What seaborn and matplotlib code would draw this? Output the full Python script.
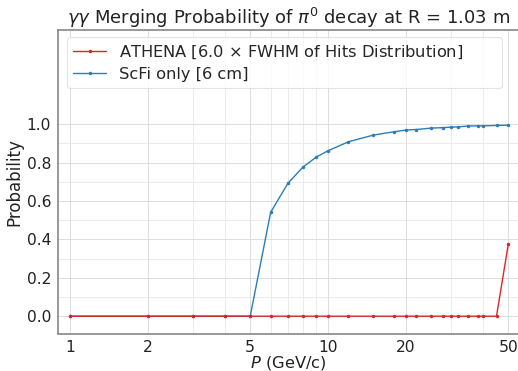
import numpy as np
import pandas as pd
import matplotlib
matplotlib.use("Agg")
import matplotlib.pyplot as plt
import seaborn as sns
from matplotlib.ticker import FixedLocator, NullFormatter

# ---- data ----
momentum = [1, 2, 3, 4, 5, 6, 7, 8, 9, 10, 12, 15, 18, 20, 22, 25, 28, 30, 32, 35, 38, 40, 45, 50]
athena_prob = [0, 0, 0, 0, 0, 0, 0, 0, 0, 0, 0, 0, 0, 0, 0, 0, 0, 0, 0, 0, 0, 0, 0, 0.376]
scfi_prob = [0, 0, 0, 0, 0, 0.541, 0.692, 0.776, 0.828, 0.861, 0.908, 0.943, 0.960, 0.969,
             0.972, 0.979, 0.982, 0.984, 0.986, 0.990, 0.991, 0.991, 0.993, 0.995]
athena_label = r"ATHENA [6.0 $\times$ FWHM of Hits Distribution]"
scfi_label = "ScFi only [6 cm]"
x_ticks = [1, 2, 5, 10, 20, 50]
x_tick_labels = ["1", "2", "5", "10", "20", "50"]
y_ticks = [0.0, 0.2, 0.4, 0.6, 0.8, 1.0]
title = r"$\gamma\gamma$ Merging Probability of $\pi^0$ decay at R = 1.03 m"

df_a = pd.DataFrame({"P": momentum, "prob": athena_prob})
df_s = pd.DataFrame({"P": momentum, "prob": scfi_prob})

sns.set_style("white")
plt.rcParams["font.family"] = ["DejaVu Sans"]

fig = plt.figure(figsize=(5.18, 3.71), dpi=100)
ax = fig.add_axes([58 / 518, 1 - 333.5 / 371, 461 / 518, (333.5 - 30) / 371])

red = "#d62728"
blue = "#2a7db8"
sns.lineplot(data=df_s, x="P", y="prob", ax=ax, color=blue, marker="o", markersize=2.5,
             markeredgewidth=0, linewidth=1.0, label=scfi_label, zorder=3)
sns.lineplot(data=df_a, x="P", y="prob", ax=ax, color=red, marker="o", markersize=2.5,
             markeredgewidth=0, linewidth=1.0, label=athena_label, zorder=4)

ax.set_xscale("log")
ax.set_xlim(0.9, 55)
ax.set_ylim(-0.09, 1.49)
ax.xaxis.set_major_locator(FixedLocator(x_ticks))
ax.set_xticklabels(x_tick_labels)
ax.xaxis.set_minor_locator(FixedLocator([3, 4, 6, 7, 8, 9, 30, 40]))
ax.xaxis.set_minor_formatter(NullFormatter())
ax.yaxis.set_major_locator(FixedLocator(y_ticks))
ax.yaxis.set_minor_locator(FixedLocator([-0.1, 0.1, 0.3, 0.5, 0.7, 0.9]))
ax.yaxis.set_minor_formatter(NullFormatter())

ax.grid(True, which="major", color="#dddddd", linewidth=0.7)
ax.grid(True, which="minor", color="#e8e8e8", linewidth=0.6)
ax.set_axisbelow(True)

for s in ax.spines.values():
    s.set_color("#888888")
    s.set_linewidth(1.2)
ax.tick_params(axis="both", which="major", direction="out", length=3, width=1,
               color="#888888", labelsize=11.2, labelcolor="#222222", pad=2)
ax.tick_params(axis="both", which="minor", direction="out", length=2, width=0.8,
               color="#999999")

ax.set_xlabel(r"$P$ (GeV/c)", fontsize=11.8, labelpad=-1, color="#222222")
ax.set_ylabel("Probability", fontsize=12, labelpad=2, color="#222222")
ax.set_title(title, fontsize=13, pad=4, color="#222222")

h, l = ax.get_legend_handles_labels()
order = [1, 0]
leg = ax.legend([h[i] for i in order], [l[i] for i in order], loc="upper left",
                bbox_to_anchor=(0.0195, 0.0, 0.9435, 0.977), mode="expand",
                fontsize=11.7, frameon=True, borderaxespad=0.0, handlelength=2.0,
                borderpad=0.4, labelspacing=0.35)
leg.get_frame().set_edgecolor("#dddddd")
leg.get_frame().set_linewidth(0.8)

fig.savefig("out.png", dpi=100)
